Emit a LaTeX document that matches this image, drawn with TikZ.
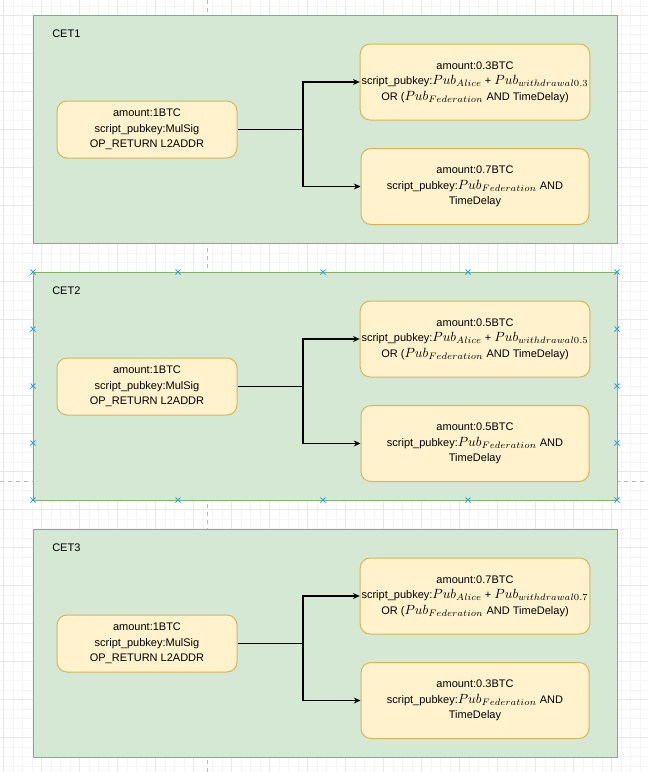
\documentclass[tikz,border=0pt]{standalone}
\usepackage{fontspec}
\setmainfont{Liberation Sans}
\usetikzlibrary{arrows.meta}

\definecolor{cetfill}{HTML}{D5E8D4}
\definecolor{cetdraw}{HTML}{82B366}
\definecolor{txofill}{HTML}{FFF2CC}
\definecolor{txodraw}{HTML}{D6B656}
\definecolor{handleblue}{HTML}{29A3F5}
\definecolor{gridminor}{HTML}{F5F5F5}
\definecolor{gridmajor}{HTML}{E8E8E8}

\newcommand{\pubk}[1]{{\fontsize{10}{11}\selectfont$Pub_{#1}$}}

\begin{document}
\begin{tikzpicture}
    [x=0.75pt, y=-0.75pt,
    cet/.style={draw=cetdraw, fill=cetfill, line width=0.75pt},
    cetlabel/.style={anchor=west, inner sep=0pt, font=\fontsize{8.25}{10}\selectfont},
    txo/.style={rectangle, rounded corners=7.5pt, draw=txodraw, fill=txofill, line width=0.75pt,
        align=center, inner sep=1pt, font=\fontsize{8.25}{11.5}\selectfont},
    input/.style={txo, minimum width=135pt, minimum height=42.75pt},
    output/.style={txo, minimum width=171pt, minimum height=57pt},
    edge/.style={line width=0.8pt, black},
    arrow/.style={edge, -{Stealth[length=5pt, width=4.5pt]}},
    handle/.style={handleblue, line width=0.6pt}]

    \useasboundingbox (0,0) rectangle (648,772);
    \fill[white] (0,0) rectangle (648,772);

    % background grid and page breaks
    \foreach \x in {3.3,12.8,...,648} \draw[gridminor, line width=0.4pt] (\x,0) -- (\x,772);
    \foreach \y in {5.8,15.3,...,772} \draw[gridminor, line width=0.4pt] (0,\y) -- (648,\y);
    \foreach \x in {3.3,41.3,...,648} \draw[gridmajor, line width=0.4pt] (\x,0) -- (\x,772);
    \foreach \y in {15.3,53.3,...,772} \draw[gridmajor, line width=0.4pt] (0,\y) -- (648,\y);
    \draw[gray!55, dashed, line width=0.5pt] (207,0) -- (207,772);
    \draw[gray!55, dashed, line width=0.5pt] (0,481) -- (648,481);

    % CET1
    \draw[cet] (33,15) rectangle (617,243);
    \node[cetlabel] (cet1) at (52,34) {CET1};
    \node[input] (in1) at (147,129.5) {amount:1BTC\\script\_pubkey:MulSig\\OP\_RETURN L2ADDR};
    \node[output] (out1a) at (475,82) {amount:0.3BTC\\script\_pubkey:\pubk{Alice} + \pubk{withdrawal0.3}\\OR (\pubk{Federation} AND TimeDelay)};
    \node[output] (out1b) at (475,186.5) {amount:0.7BTC\\script\_pubkey:\pubk{Federation} AND\\TimeDelay};
    \coordinate (j1) at (303,129.5);

    % CET2
    \draw[cet] (33,272) rectangle (617,500);
    \node[cetlabel] (cet2) at (52,291) {CET2};
    \node[input] (in2) at (147,386.5) {amount:1BTC\\script\_pubkey:MulSig\\OP\_RETURN L2ADDR};
    \node[output] (out2a) at (475,339) {amount:0.5BTC\\script\_pubkey:\pubk{Alice} + \pubk{withdrawal0.5}\\OR (\pubk{Federation} AND TimeDelay)};
    \node[output] (out2b) at (475,443.5) {amount:0.5BTC\\script\_pubkey:\pubk{Federation} AND\\TimeDelay};
    \coordinate (j2) at (303,386.5);

    % CET3
    \draw[cet] (33,529) rectangle (617,757);
    \node[cetlabel] (cet3) at (52,548) {CET3};
    \node[input] (in3) at (147,643.5) {amount:1BTC\\script\_pubkey:MulSig\\OP\_RETURN L2ADDR};
    \node[output] (out3a) at (475,596) {amount:0.7BTC\\script\_pubkey:\pubk{Alice} + \pubk{withdrawal0.7}\\OR (\pubk{Federation} AND TimeDelay)};
    \node[output] (out3b) at (475,700.5) {amount:0.3BTC\\script\_pubkey:\pubk{Federation} AND\\TimeDelay};
    \coordinate (j3) at (303,643.5);

    % outputs of each CET
    \draw[edge] (in1) -- (j1);
    \draw[arrow] (j1) |- (out1a);
    \draw[arrow] (j1) |- (out1b);
    \draw[edge] (in2) -- (j2);
    \draw[arrow] (j2) |- (out2a);
    \draw[arrow] (j2) |- (out2b);
    \draw[edge] (in3) -- (j3);
    \draw[arrow] (j3) |- (out3a);
    \draw[arrow] (j3) |- (out3b);

    % selection handles on CET2
    \foreach \p in {(33,272),(178,272),(323,272),(468,272),(617,272),
                    (33,500),(178,500),(323,500),(468,500),(617,500),
                    (33,329),(33,386),(33,443),(617,329),(617,386),(617,443)}
        \draw[handle] \p ++(-2.5,-2.5) -- ++(5,5) \p ++(-2.5,2.5) -- ++(5,-5);

\end{tikzpicture}
\end{document}
